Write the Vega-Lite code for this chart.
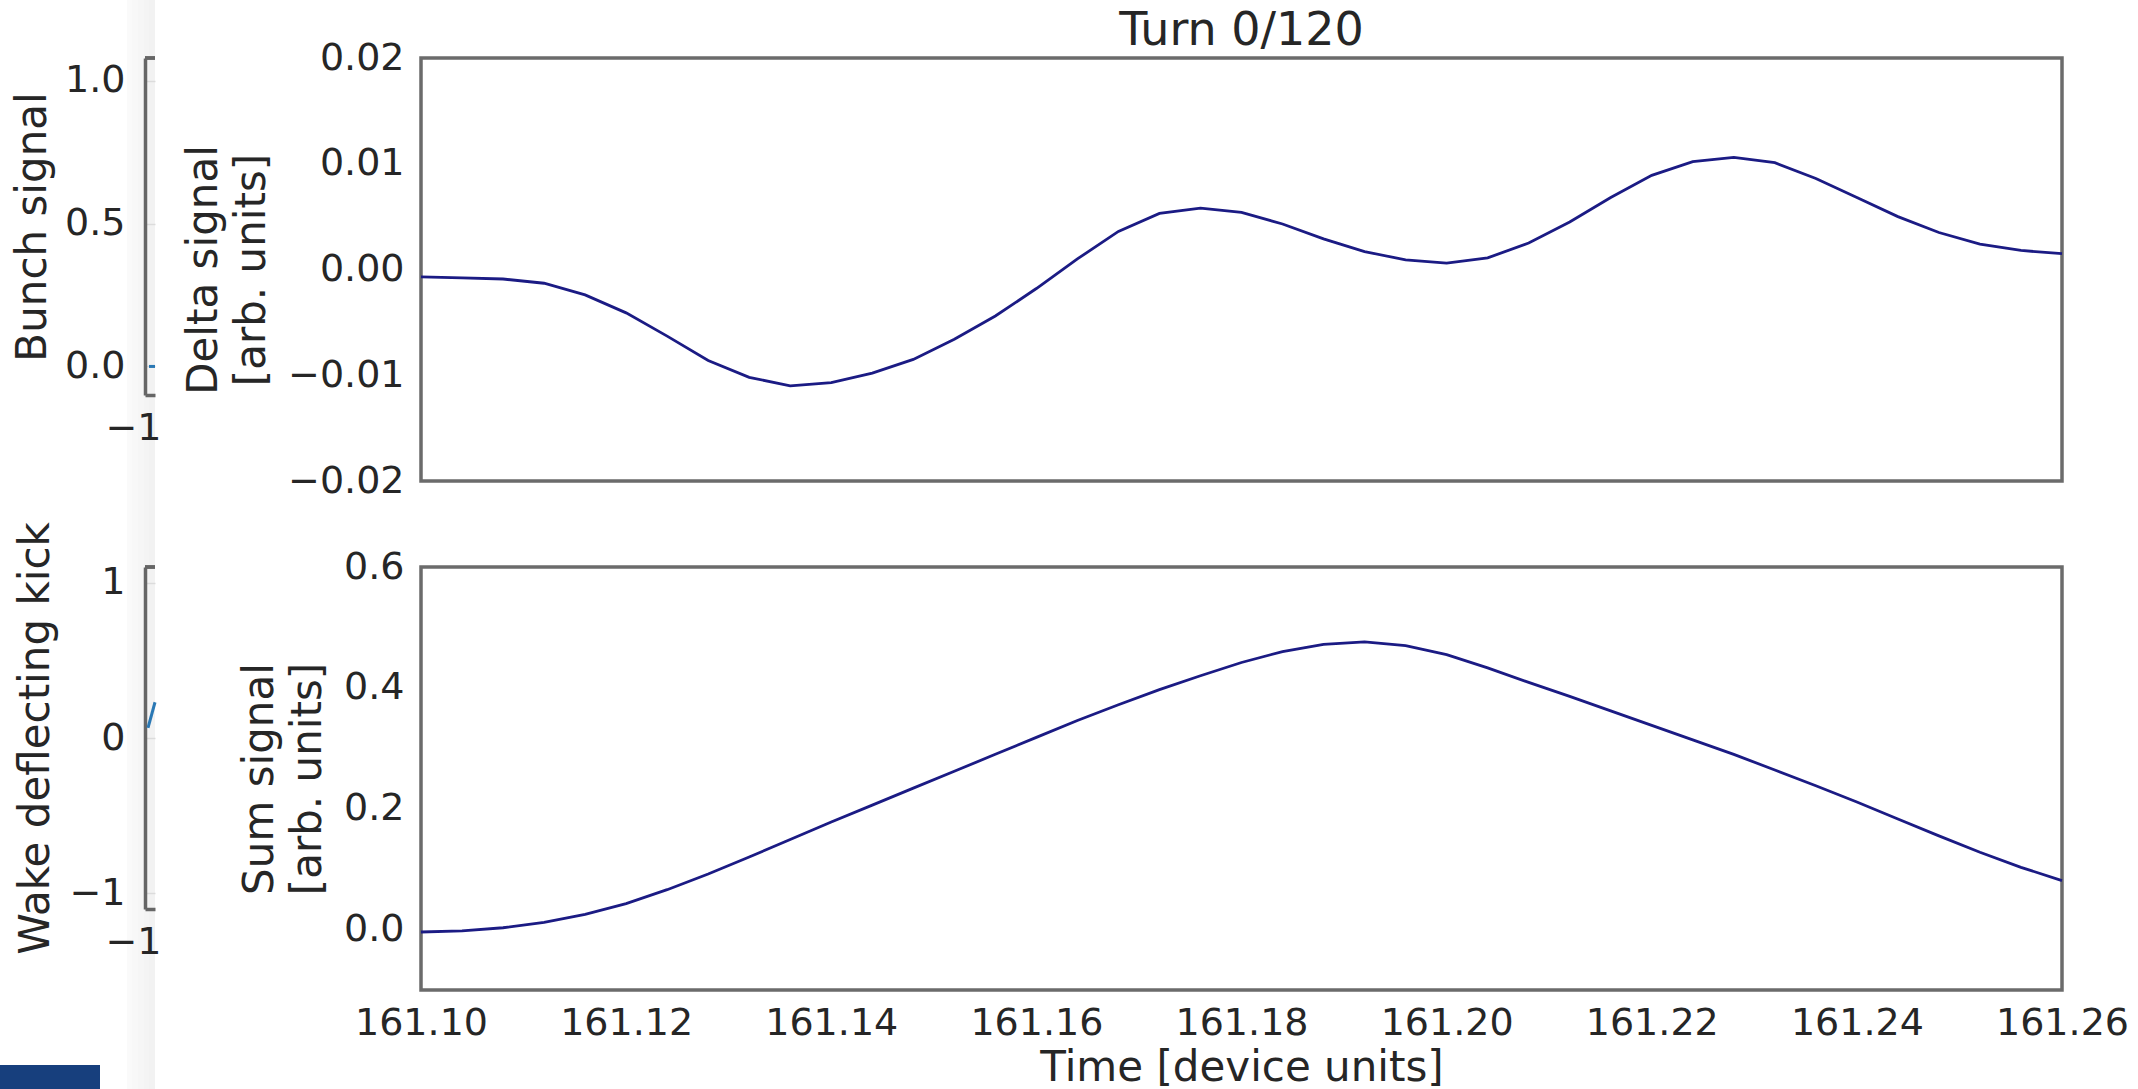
{
  "$schema": "https://vega.github.io/schema/vega-lite/v6.json",
  "autosize": {"type": "none"},
  "padding": {"left": 127, "top": 58, "right": 2011, "bottom": 1031},
  "background": "#ffffff",
  "bounds": "flush",
  "spacing": 294,
  "config": {
    "font": "DejaVu Sans",
    "view": {"stroke": null},
    "axis": {
      "labelFont": "DejaVu Sans",
      "titleFont": "DejaVu Sans",
      "labelColor": "#262626",
      "titleColor": "#262626",
      "labelFontSize": 38,
      "titleFontSize": 42,
      "titleFontWeight": "normal",
      "ticks": false,
      "grid": false,
      "domainColor": "#666666",
      "domainWidth": 3.5
    }
  },
  "datasets": {
    "bunch": [{"t": -1.012, "v": 0}, {"t": -1.0, "v": 0}],
    "wake": [{"t": -1.014, "v": 0.065}, {"t": -1.0, "v": 0.23}],
    "shadow": [
      {"x0": 0, "x1": 5, "y0": 0, "y1": 1089, "shade": 1},
      {"x0": 5, "x1": 11, "y0": 0, "y1": 1089, "shade": 2},
      {"x0": 11, "x1": 17, "y0": 0, "y1": 1089, "shade": 3},
      {"x0": 17, "x1": 22, "y0": 0, "y1": 1089, "shade": 4},
      {"x0": 22, "x1": 28, "y0": 0, "y1": 1089, "shade": 5}
    ],
    "logo": [{"x0": -127, "x1": -27, "y0": 0, "y1": 24}],
    "delta": [
      {"t": 161.100, "v": -0.0007}, {"t": 161.104, "v": -0.0008}, {"t": 161.108, "v": -0.0009},
      {"t": 161.112, "v": -0.0013}, {"t": 161.116, "v": -0.0024}, {"t": 161.120, "v": -0.0041},
      {"t": 161.124, "v": -0.0063}, {"t": 161.128, "v": -0.0086}, {"t": 161.132, "v": -0.0102},
      {"t": 161.136, "v": -0.0110}, {"t": 161.140, "v": -0.0107}, {"t": 161.144, "v": -0.0098},
      {"t": 161.148, "v": -0.0085}, {"t": 161.152, "v": -0.0066}, {"t": 161.156, "v": -0.0044},
      {"t": 161.160, "v": -0.0018}, {"t": 161.164, "v": 0.0010}, {"t": 161.168, "v": 0.0036},
      {"t": 161.172, "v": 0.0053}, {"t": 161.176, "v": 0.0058}, {"t": 161.180, "v": 0.0054},
      {"t": 161.184, "v": 0.0043}, {"t": 161.188, "v": 0.0029}, {"t": 161.192, "v": 0.0017},
      {"t": 161.196, "v": 0.0009}, {"t": 161.200, "v": 0.0006}, {"t": 161.204, "v": 0.0011},
      {"t": 161.208, "v": 0.0025}, {"t": 161.212, "v": 0.0045}, {"t": 161.216, "v": 0.0068},
      {"t": 161.220, "v": 0.0089}, {"t": 161.224, "v": 0.0102}, {"t": 161.228, "v": 0.0106},
      {"t": 161.232, "v": 0.0101}, {"t": 161.236, "v": 0.0086}, {"t": 161.240, "v": 0.0068},
      {"t": 161.244, "v": 0.0050}, {"t": 161.248, "v": 0.0035}, {"t": 161.252, "v": 0.0024},
      {"t": 161.256, "v": 0.0018}, {"t": 161.260, "v": 0.0015}
    ],
    "sum": [
      {"t": 161.100, "v": -0.004}, {"t": 161.104, "v": -0.002}, {"t": 161.108, "v": 0.003},
      {"t": 161.112, "v": 0.012}, {"t": 161.116, "v": 0.025}, {"t": 161.120, "v": 0.043},
      {"t": 161.124, "v": 0.066}, {"t": 161.128, "v": 0.092}, {"t": 161.132, "v": 0.120},
      {"t": 161.136, "v": 0.149}, {"t": 161.140, "v": 0.178}, {"t": 161.144, "v": 0.206},
      {"t": 161.148, "v": 0.234}, {"t": 161.152, "v": 0.262}, {"t": 161.156, "v": 0.290},
      {"t": 161.160, "v": 0.318}, {"t": 161.164, "v": 0.346}, {"t": 161.168, "v": 0.372},
      {"t": 161.172, "v": 0.397}, {"t": 161.176, "v": 0.420}, {"t": 161.180, "v": 0.442},
      {"t": 161.184, "v": 0.460}, {"t": 161.188, "v": 0.472}, {"t": 161.192, "v": 0.476},
      {"t": 161.196, "v": 0.470}, {"t": 161.200, "v": 0.455}, {"t": 161.204, "v": 0.433},
      {"t": 161.208, "v": 0.409}, {"t": 161.212, "v": 0.386}, {"t": 161.216, "v": 0.362},
      {"t": 161.220, "v": 0.338}, {"t": 161.224, "v": 0.314}, {"t": 161.228, "v": 0.290},
      {"t": 161.232, "v": 0.264}, {"t": 161.236, "v": 0.238}, {"t": 161.240, "v": 0.211},
      {"t": 161.244, "v": 0.183}, {"t": 161.248, "v": 0.155}, {"t": 161.252, "v": 0.128},
      {"t": 161.256, "v": 0.103}, {"t": 161.260, "v": 0.081}
    ]
  },
  "hconcat": [
    {
      "bounds": "flush",
      "spacing": 0,
      "hconcat": [
        {
          "width": 18,
          "height": 1031,
          "layer": [
            {
              "data": {"name": "shadow"},
              "mark": {"type": "rect", "color": "#000000"},
              "encoding": {
                "x": {"field": "x0", "type": "quantitative", "scale": {"domain": [0, 18], "nice": false, "zero": false}, "axis": null},
                "x2": {"field": "x1"},
                "y": {"field": "y0", "type": "quantitative", "scale": {"domain": [0, 1031], "nice": false, "zero": false}, "axis": null},
                "y2": {"field": "y1"},
                "opacity": {"field": "shade", "type": "ordinal", "scale": {"domain": [1, 2, 3, 4, 5], "range": [0.02, 0.05, 0.1, 0.19, 0.27]}, "legend": null}
              }
            },
            {
              "data": {"name": "logo"},
              "mark": {"type": "rect", "color": "#173f7d"},
              "encoding": {
                "x": {"field": "x0", "type": "quantitative"},
                "x2": {"field": "x1"},
                "y": {"field": "y0", "type": "quantitative"},
                "y2": {"field": "y1"}
              }
            }
          ]
        },
        {
          "bounds": "flush",
          "spacing": 172,
          "vconcat": [
            {
              "width": 10,
              "height": 337,
              "data": {"name": "bunch"},
              "layer": [
                {
                  "mark": {"type": "line", "color": "#2a78b4", "strokeWidth": 3},
                  "encoding": {
                    "x": {"field": "t", "type": "quantitative", "scale": {"domain": [-1.02, -1.0], "nice": false, "zero": false},
                      "axis": {"values": [-1], "format": "d", "title": null, "labelAlign": "right", "labelPadding": 14, "labelOffset": 6, "labelFlush": false}},
                    "y": {"field": "v", "type": "quantitative", "scale": {"domain": [-0.1, 1.08], "nice": false, "zero": false},
                      "axis": {"values": [0, 0.5, 1], "format": ".1f", "title": "Bunch signal", "labelPadding": 20, "titlePadding": 10, "grid": true, "gridColor": "#dcdcdc", "gridWidth": 1.5}}
                  }
                },
                {
                  "mark": {"type": "rule", "color": "#666666", "strokeWidth": 3.5},
                  "encoding": {"y": {"datum": 1.08}}
                }
              ]
            },
            {
              "width": 10,
              "height": 342,
              "data": {"name": "wake"},
              "layer": [
                {
                  "mark": {"type": "line", "color": "#2a78b4", "strokeWidth": 3},
                  "encoding": {
                    "x": {"field": "t", "type": "quantitative", "scale": {"domain": [-1.02, -1.0], "nice": false, "zero": false},
                      "axis": {"values": [-1], "format": "d", "title": null, "labelAlign": "right", "labelPadding": 14, "labelOffset": 6, "labelFlush": false}},
                    "y": {"field": "v", "type": "quantitative", "scale": {"domain": [-1.1, 1.1], "nice": false, "zero": false},
                      "axis": {"values": [-1, 0, 1], "format": "d", "title": "Wake deflecting kick", "labelPadding": 20, "titlePadding": 11, "grid": true, "gridColor": "#dcdcdc", "gridWidth": 1.5}}
                  }
                },
                {
                  "mark": {"type": "rule", "color": "#666666", "strokeWidth": 3.5},
                  "encoding": {"y": {"datum": 1.1}}
                }
              ]
            }
          ]
        }
      ]
    },
    {
      "bounds": "flush",
      "spacing": 86,
      "vconcat": [
        {
          "width": 1641,
          "height": 423,
          "title": {"text": "Turn 0/120", "fontSize": 46, "fontWeight": "normal", "color": "#262626", "font": "DejaVu Sans", "baseline": "alphabetic", "offset": -52},
          "view": {"stroke": "#6b6b6b", "strokeWidth": 3.5},
          "data": {"name": "delta"},
          "mark": {"type": "line", "color": "#1b1b84", "strokeWidth": 2.8},
          "encoding": {
            "x": {"field": "t", "type": "quantitative", "scale": {"domain": [161.10, 161.26], "nice": false, "zero": false}, "axis": null},
            "y": {"field": "v", "type": "quantitative", "scale": {"domain": [-0.02, 0.02], "nice": false, "zero": false},
              "axis": {"values": [-0.02, -0.01, 0, 0.01, 0.02], "format": ".2f", "title": ["Delta signal", "[arb. units]"], "domain": false, "labelPadding": 17, "titlePadding": 14, "titleLineHeight": 48}}
          }
        },
        {
          "width": 1641,
          "height": 423,
          "view": {"stroke": "#6b6b6b", "strokeWidth": 3.5},
          "data": {"name": "sum"},
          "mark": {"type": "line", "color": "#1b1b84", "strokeWidth": 2.8},
          "encoding": {
            "x": {"field": "t", "type": "quantitative", "scale": {"domain": [161.10, 161.26], "nice": false, "zero": false},
              "axis": {"values": [161.10, 161.12, 161.14, 161.16, 161.18, 161.20, 161.22, 161.24, 161.26], "format": ".2f", "title": "Time [device units]", "domain": false, "labelPadding": 14, "titlePadding": 5, "labelFlush": false}},
            "y": {"field": "v", "type": "quantitative", "scale": {"domain": [-0.1, 0.6], "nice": false, "zero": false},
              "axis": {"values": [0, 0.2, 0.4, 0.6], "format": ".1f", "title": ["Sum signal", "[arb. units]"], "domain": false, "labelPadding": 17, "titlePadding": 14, "titleLineHeight": 48}}
          }
        }
      ]
    }
  ]
}
